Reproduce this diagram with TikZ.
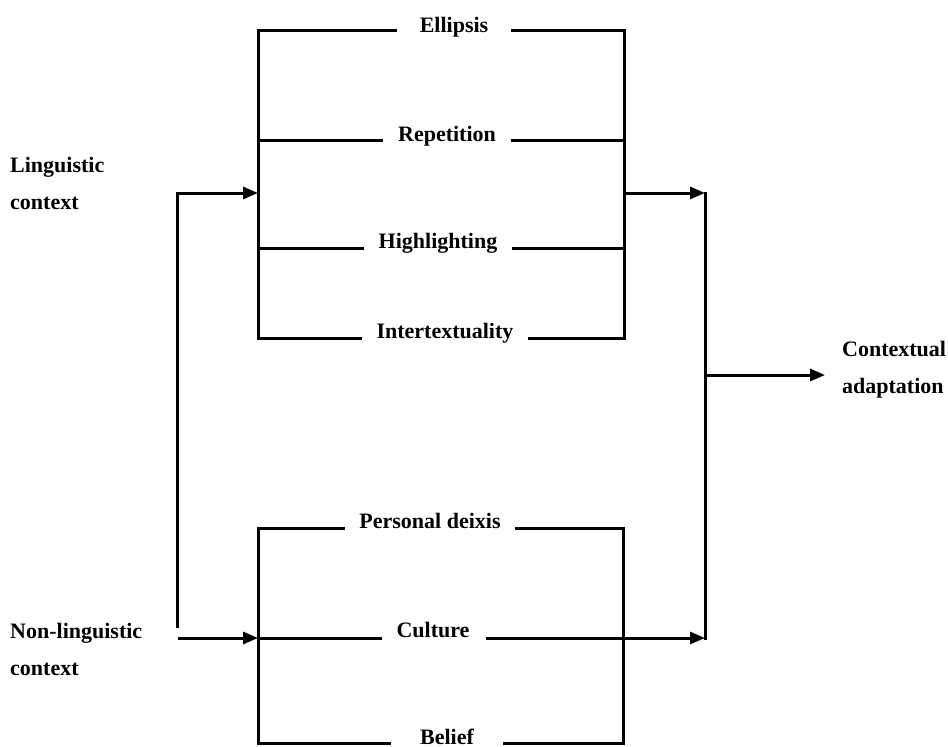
\documentclass[tikz,border=0pt]{standalone}
\usepackage{fontspec}
\setmainfont{Liberation Serif}
\usetikzlibrary{arrows.meta}

\begin{document}
\begin{tikzpicture}[
    x=1pt, y=-1pt,
    line/.style={line width=3pt, line cap=rect},
    arrow/.style={line width=3pt, -{Triangle[length=15pt,width=12pt]}},
    lbl/.style={anchor=base, inner xsep=16pt, inner ysep=0pt, font=\fontsize{22}{26}\selectfont\bfseries},
    side/.style={align=left, anchor=base west, inner sep=0pt, font=\fontsize{22}{37}\selectfont\bfseries}
]
\useasboundingbox (0,0) rectangle (948,747);

% Side labels
\node[side] (ling) at (10,209) {Linguistic\\context};
\node[side] (nonling) at (10,675) {Non-linguistic\\context};
\node[side] (adapt) at (842,393) {Contextual\\adaptation};

% Linguistic context box
\coordinate (ua) at (258,30);
\coordinate (ub) at (624,30);
\coordinate (uc) at (624,338);
\coordinate (ud) at (258,338);
\coordinate (ue) at (258,140);
\coordinate (uf) at (624,140);
\coordinate (ug) at (258,248);
\coordinate (uh) at (624,248);

\node[lbl, inner xsep=24pt] (ellipsis) at (454,32) {Ellipsis};
\node[lbl] (repetition) at (447,141) {Repetition};
\node[lbl] (highlighting) at (438,248) {Highlighting};
\node[lbl] (intertext) at (445,338) {Intertextuality};

\draw[line] (ua) -- (ud);
\draw[line] (ub) -- (uc);
\draw[line] (ua) -- (ellipsis.west |- ua);
\draw[line] (ellipsis.east |- ub) -- (ub);
\draw[line] (ue) -- (repetition.west |- ue);
\draw[line] (repetition.east |- uf) -- (uf);
\draw[line] (ug) -- (highlighting.west |- ug);
\draw[line] (highlighting.east |- uh) -- (uh);
\draw[line] (ud) -- (intertext.west |- ud);
\draw[line] (intertext.east |- uc) -- (uc);

% Non-linguistic context box
\coordinate (la) at (258,528);
\coordinate (lb) at (623,528);
\coordinate (lc) at (623,743);
\coordinate (ld) at (258,743);
\coordinate (le) at (258,638);

\node[lbl] (deixis) at (430,528) {Personal deixis};
\node[lbl] (culture) at (433,637) {Culture};
\node[lbl, inner xsep=30pt] (belief) at (447,744) {Belief};

\draw[line] (la) -- (ld);
\draw[line] (lb) -- (lc);
\draw[line] (la) -- (deixis.west |- la);
\draw[line] (deixis.east |- lb) -- (lb);
\draw[line] (le) -- (culture.west |- le);
\draw[line] (ld) -- (belief.west |- ld);
\draw[line] (belief.east |- lc) -- (lc);

% Input arrows
\coordinate (lfoot) at (177,628);
\coordinate (lin) at (258,193);
\coordinate (nstart) at (178,638);
\draw[arrow] (lfoot) |- (lin);
\draw[arrow] (nstart) -- (le);

% Output arrows
\coordinate (uout) at (624,193);
\coordinate (mtop) at (705,193);
\coordinate (mmid) at (705,375);
\coordinate (mbot) at (705,638);
\draw[line] (mtop) -- (mbot);
\draw[arrow] (uout) -- (mtop);
\draw[arrow] (culture.east |- mbot) -- (mbot);
\draw[arrow, shorten >=17pt] (mmid) -- (adapt.west |- mmid);

\end{tikzpicture}
\end{document}
